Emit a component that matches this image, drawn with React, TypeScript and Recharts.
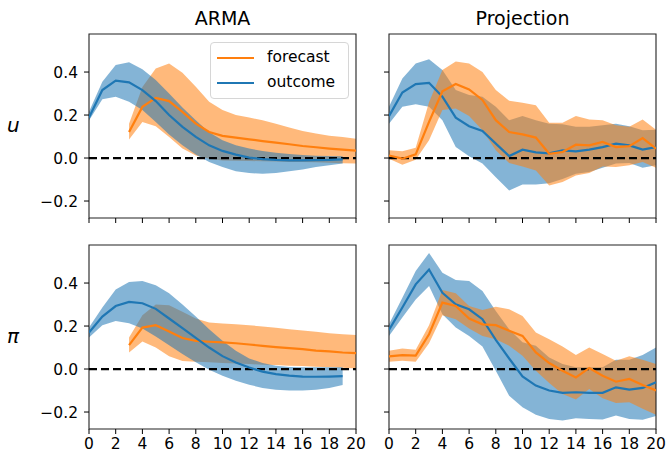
import React from 'react';
import {
  ComposedChart,
  Area,
  Line,
  XAxis,
  YAxis,
  ReferenceLine,
  ReferenceArea,
} from 'recharts';

const horizons = [0, 1, 2, 3, 4, 5, 6, 7, 8, 9, 10, 11, 12, 13, 14, 15, 16, 17, 18, 19, 20];
const xTicks = [0, 2, 4, 6, 8, 10, 12, 14, 16, 18, 20];
const yTicks = [-0.2, 0, 0.2, 0.4];
const Y_MIN = -0.279;
const Y_MAX = 0.577;

// ARMA, u
const armaUOut = [0.188, 0.316, 0.36, 0.352, 0.316, 0.265, 0.2, 0.145, 0.098, 0.059, 0.033, 0.016, 0.002, -0.005, -0.009, -0.011, -0.011, -0.01, -0.009, -0.006, null];
const armaUOutHi = [0.215, 0.355, 0.433, 0.445, 0.413, 0.363, 0.3, 0.235, 0.176, 0.12, 0.083, 0.059, 0.044, 0.033, 0.025, 0.019, 0.014, 0.011, 0.009, 0.008, null];
const armaUOutLo = [0.175, 0.274, 0.285, 0.262, 0.223, 0.168, 0.11, 0.059, 0.016, -0.019, -0.042, -0.061, -0.07, -0.073, -0.07, -0.062, -0.053, -0.042, -0.034, -0.026, null];
const armaUFc = [null, null, null, 0.121, 0.238, 0.28, 0.265, 0.215, 0.16, 0.121, 0.103, 0.095, 0.087, 0.079, 0.072, 0.064, 0.056, 0.05, 0.044, 0.039, 0.034];
const armaUFcHi = [null, null, null, 0.16, 0.33, 0.417, 0.44, 0.397, 0.332, 0.262, 0.223, 0.2, 0.188, 0.176, 0.16, 0.142, 0.126, 0.114, 0.104, 0.098, 0.09];
const armaUFcLo = [null, null, null, 0.086, 0.168, 0.148, 0.098, 0.044, 0.012, -0.003, -0.011, -0.013, -0.014, -0.015, -0.016, -0.018, -0.019, -0.02, -0.022, -0.024, -0.026];

// Projection, u
const projUOut = [0.195, 0.305, 0.344, 0.35, 0.285, 0.188, 0.148, 0.126, 0.067, 0.009, 0.039, 0.026, 0.022, 0.036, 0.031, 0.039, 0.051, 0.067, 0.059, 0.039, 0.051];
const projUOutHi = [0.238, 0.37, 0.44, 0.46, 0.41, 0.316, 0.293, 0.285, 0.238, 0.176, 0.195, 0.176, 0.16, 0.157, 0.145, 0.145, 0.153, 0.16, 0.148, 0.129, 0.132];
const projUOutLo = [0.16, 0.238, 0.25, 0.238, 0.176, 0.051, 0.008, -0.026, -0.089, -0.151, -0.123, -0.123, -0.117, -0.097, -0.073, -0.065, -0.045, -0.026, -0.023, -0.045, -0.034];
const projUFc = [0.012, -0.003, 0.017, 0.168, 0.31, 0.344, 0.319, 0.27, 0.176, 0.121, 0.11, 0.095, 0.02, 0.028, 0.062, 0.059, 0.075, 0.051, 0.055, 0.093, 0.044];
const projUFcHi = [0.036, 0.031, 0.048, 0.26, 0.41, 0.449, 0.44, 0.4, 0.316, 0.266, 0.257, 0.245, 0.164, 0.164, 0.195, 0.179, 0.176, 0.153, 0.145, 0.179, 0.132];
const projUFcLo = [-0.003, -0.031, -0.008, 0.083, 0.223, 0.23, 0.195, 0.129, 0.036, -0.023, -0.039, -0.058, -0.128, -0.112, -0.081, -0.07, -0.039, -0.042, -0.034, -0.019, -0.045];

// ARMA, pi
const armaPiOut = [0.17, 0.244, 0.293, 0.312, 0.306, 0.28, 0.235, 0.19, 0.145, 0.1, 0.06, 0.03, 0.007, -0.012, -0.024, -0.031, -0.035, -0.036, -0.035, -0.033, null];
const armaPiOutHi = [0.193, 0.286, 0.37, 0.405, 0.409, 0.39, 0.352, 0.3, 0.244, 0.185, 0.131, 0.085, 0.049, 0.028, 0.015, 0.009, 0.008, 0.008, 0.008, 0.008, null];
const armaPiOutLo = [0.147, 0.204, 0.224, 0.213, 0.188, 0.151, 0.111, 0.07, 0.031, -0.003, -0.031, -0.054, -0.073, -0.088, -0.096, -0.1, -0.1, -0.096, -0.088, -0.074, null];
const armaPiFc = [null, null, null, 0.111, 0.193, 0.204, 0.175, 0.144, 0.131, 0.127, 0.124, 0.12, 0.114, 0.108, 0.102, 0.097, 0.093, 0.086, 0.082, 0.077, 0.074];
const armaPiFcHi = [null, null, null, 0.147, 0.25, 0.3, 0.297, 0.266, 0.235, 0.216, 0.212, 0.208, 0.204, 0.198, 0.192, 0.185, 0.179, 0.173, 0.167, 0.162, 0.158];
const armaPiFcLo = [null, null, null, 0.077, 0.128, 0.1, 0.059, 0.037, 0.034, 0.031, 0.028, 0.026, 0.023, 0.02, 0.019, 0.015, 0.014, 0.011, 0.008, 0.006, 0.003];

// Projection, pi
const projPiOut = [0.182, 0.286, 0.394, 0.463, 0.355, 0.301, 0.278, 0.232, 0.136, 0.049, -0.034, -0.077, -0.1, -0.111, -0.108, -0.111, -0.111, -0.085, -0.096, -0.088, -0.062];
const projPiOutHi = [0.208, 0.332, 0.456, 0.54, 0.448, 0.414, 0.409, 0.363, 0.27, 0.185, 0.124, 0.108, 0.054, 0.023, 0.008, 0.008, 0.008, 0.043, 0.043, 0.065, 0.1];
const projPiOutLo = [0.154, 0.24, 0.324, 0.386, 0.255, 0.193, 0.154, 0.105, -0.008, -0.124, -0.178, -0.213, -0.232, -0.239, -0.229, -0.232, -0.235, -0.216, -0.232, -0.236, -0.219];
const projPiFc = [0.059, 0.065, 0.062, 0.162, 0.309, 0.293, 0.235, 0.208, 0.204, 0.178, 0.154, 0.077, 0.028, -0.008, -0.039, 0.005, -0.031, -0.059, -0.046, -0.074, -0.1];
const projPiFcHi = [0.085, 0.096, 0.09, 0.204, 0.368, 0.352, 0.293, 0.275, 0.29, 0.278, 0.247, 0.17, 0.139, 0.105, 0.065, 0.1, 0.07, 0.039, 0.059, 0.043, 0.023];
const projPiFcLo = [0.034, 0.039, 0.034, 0.12, 0.25, 0.232, 0.188, 0.154, 0.139, 0.108, 0.062, -0.008, -0.065, -0.116, -0.142, -0.093, -0.136, -0.158, -0.154, -0.185, -0.213];

const BLUE = '#1f77b4';
const ORANGE = '#ff7f0e';
const FONT = '"DejaVu Sans", sans-serif';
const W = 669;
const H = 456;

type Val = number | null;

function buildRows(out: Val[], outHi: Val[], outLo: Val[], fc: Val[], fcHi: Val[], fcLo: Val[]) {
  return horizons.map((h, i) => ({
    h,
    out: out[i],
    outBand: outLo[i] == null || outHi[i] == null ? null : [outLo[i], outHi[i]],
    fc: fc[i],
    fcBand: fcLo[i] == null || fcHi[i] == null ? null : [fcLo[i], fcHi[i]],
  }));
}

function fmtY(v: number) {
  if (Math.abs(v) < 1e-9) return '0.0';
  return v < 0 ? '\u2212' + Math.abs(v).toFixed(1) : v.toFixed(1);
}

interface PanelProps {
  rows: ReturnType<typeof buildRows>;
  left: number;
  top: number;
  showX: boolean;
  showY: boolean;
  blueOnTop: boolean;
}

const PLOT_W = 267;
const PLOT_H = 184;
const YAXIS_W = 40;
const XAXIS_H = 20;

function Panel({ rows, left, top, showX, showY, blueOnTop }: PanelProps) {
  const margin = {
    left: left - YAXIS_W,
    right: W - left - PLOT_W,
    top,
    bottom: H - top - PLOT_H - XAXIS_H,
  };
  const tickStyle = { fontSize: 15.5, fill: '#000', fontFamily: FONT };
  const blueBand = (
    <Area
      key="ob"
      dataKey="outBand"
      type="linear"
      stroke="none"
      fill={BLUE}
      fillOpacity={0.55}
      isAnimationActive={false}
      connectNulls={false}
      activeDot={false}
    />
  );
  const orangeBand = (
    <Area
      key="fb"
      dataKey="fcBand"
      type="linear"
      stroke="none"
      fill={ORANGE}
      fillOpacity={0.55}
      isAnimationActive={false}
      connectNulls={false}
      activeDot={false}
    />
  );
  return (
    <div style={{ position: 'absolute', left: 0, top: 0 }}>
      <ComposedChart width={W} height={H} data={rows} margin={margin}>
        <XAxis
          dataKey="h"
          type="number"
          domain={[0, 20]}
          ticks={xTicks}
          allowDataOverflow
          height={XAXIS_H}
          tick={tickStyle}
          tickFormatter={(v) => (showX ? String(v) : '')}
          tickSize={5}
          tickMargin={4}
          tickLine={{ stroke: '#000' }}
          axisLine={false}
          interval={0}
        />
        <YAxis
          type="number"
          domain={[Y_MIN, Y_MAX]}
          ticks={yTicks}
          allowDataOverflow
          width={YAXIS_W}
          tick={tickStyle}
          tickFormatter={(v) => (showY ? fmtY(v) : '')}
          tickSize={5}
          tickMargin={6}
          tickLine={{ stroke: '#000' }}
          axisLine={false}
          interval={0}
        />
        {blueOnTop ? [orangeBand, blueBand] : [blueBand, orangeBand]}
        <ReferenceLine y={0} stroke="#000" strokeWidth={2.2} strokeDasharray="8 4" />
        {blueOnTop ? null : (
          <Line dataKey="out" type="linear" stroke={BLUE} strokeWidth={2.2} dot={false} activeDot={false} isAnimationActive={false} />
        )}
        <Line dataKey="fc" type="linear" stroke={ORANGE} strokeWidth={2.2} dot={false} activeDot={false} isAnimationActive={false} />
        {blueOnTop ? (
          <Line dataKey="out" type="linear" stroke={BLUE} strokeWidth={2.2} dot={false} activeDot={false} isAnimationActive={false} />
        ) : null}
        <ReferenceArea
          x1={0}
          x2={20}
          y1={Y_MIN}
          y2={Y_MAX}
          fill="none"
          fillOpacity={0}
          stroke="#222"
          strokeWidth={1.1}
          ifOverflow="visible"
        />
      </ComposedChart>
    </div>
  );
}

const armaURows = buildRows(armaUOut, armaUOutHi, armaUOutLo, armaUFc, armaUFcHi, armaUFcLo);
const projURows = buildRows(projUOut, projUOutHi, projUOutLo, projUFc, projUFcHi, projUFcLo);
const armaPiRows = buildRows(armaPiOut, armaPiOutHi, armaPiOutLo, armaPiFc, armaPiFcHi, armaPiFcLo);
const projPiRows = buildRows(projPiOut, projPiOutHi, projPiOutLo, projPiFc, projPiFcHi, projPiFcLo);

const textBase: React.CSSProperties = {
  position: 'absolute',
  fontFamily: FONT,
  color: '#000',
  whiteSpace: 'nowrap',
  lineHeight: 1,
};

export default function App() {
  return (
    <div style={{ position: 'absolute', left: 0, top: 0, width: W, height: H, background: '#fff', overflow: 'hidden' }}>
      <Panel rows={armaURows} left={89} top={34} showX={false} showY blueOnTop />
      <Panel rows={projURows} left={389} top={34} showX={false} showY={false} blueOnTop={false} />
      <Panel rows={armaPiRows} left={89} top={245} showX showY blueOnTop />
      <Panel rows={projPiRows} left={389} top={245} showX showY={false} blueOnTop={false} />

      <div style={{ ...textBase, left: 89, width: PLOT_W, top: 9, fontSize: 19, textAlign: 'center' }}>ARMA</div>
      <div style={{ ...textBase, left: 389, width: PLOT_W, top: 9, fontSize: 19, textAlign: 'center' }}>Projection</div>

      <div style={{ ...textBase, left: 7, top: 115, fontSize: 20, fontStyle: 'italic' }}>u</div>
      <div style={{ ...textBase, left: 7, top: 326, fontSize: 20, fontStyle: 'italic' }}>π</div>

      <div
        style={{
          position: 'absolute',
          left: 210,
          top: 42,
          width: 137,
          height: 55,
          border: '1px solid #d6d6d6',
          borderRadius: 4,
          background: 'rgba(255,255,255,0.85)',
          fontFamily: FONT,
          fontSize: 15.5,
        }}
      >
        <div style={{ position: 'absolute', left: 6, top: 14, width: 37, height: 2.2, background: ORANGE }} />
        <div style={{ ...textBase, left: 56, top: 7 }}>forecast</div>
        <div style={{ position: 'absolute', left: 6, top: 39, width: 37, height: 2.2, background: BLUE }} />
        <div style={{ ...textBase, left: 56, top: 32 }}>outcome</div>
      </div>
    </div>
  );
}
